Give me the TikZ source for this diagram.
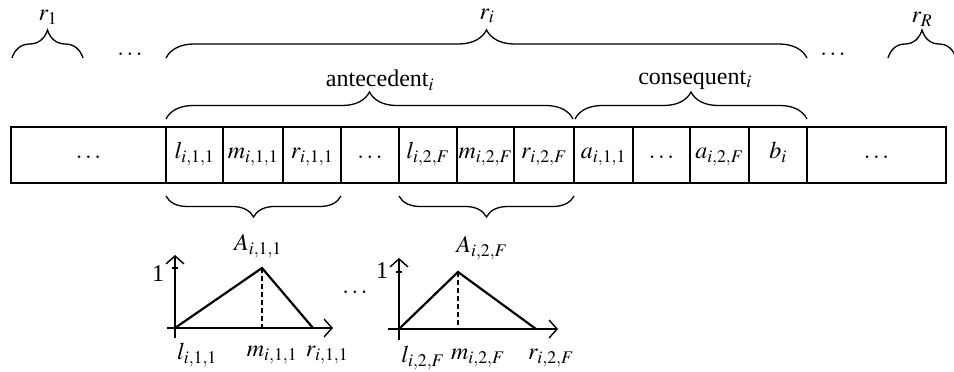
\documentclass[tikz,border=0pt]{standalone}
\usepackage{mathptmx}
\usepackage{fontspec}
\setmainfont{Liberation Serif}
\usetikzlibrary{decorations.pathreplacing,arrows.meta}
\begin{document}
\begin{tikzpicture}[x=1pt,y=1pt,
  cell/.style={draw, line width=2.6pt, rectangle, inner sep=0pt, outer sep=0pt,
    minimum height=56pt, text height=12pt, text depth=5pt,
    font=\fontsize{24}{28}\selectfont},
  lbl/.style={inner sep=0pt, font=\fontsize{24}{28}\selectfont},
  cbrace/.style={decorate, decoration={brace, amplitude=#1}, line width=1.3pt},
  mbrace/.style={decorate, decoration={brace, mirror, amplitude=#1}, line width=1.3pt},
  axisline/.style={line width=1.4pt, -{Straight Barb[length=8pt,width=18pt,line width=1.4pt]}},
  tri/.style={line width=2.2pt, line join=miter},
  guide/.style={dashed, dash pattern=on 5pt off 3pt, line width=1.2pt}
]
\useasboundingbox (0,0) rectangle (954,372);

% strip of cells
\node[cell, minimum width=155pt] (d1)  at (88.5,217) {$\ldots$};
\node[cell, minimum width=57pt]  (l11) at (194.5,217) {$l_{i,1,1}$};
\node[cell, minimum width=60pt]  (m11) at (253,217) {$m_{i,1,1}$};
\node[cell, minimum width=58pt]  (r11) at (312,217) {$r_{i,1,1}$};
\node[cell, minimum width=58pt]  (d2)  at (370,217) {$\ldots$};
\node[cell, minimum width=58pt]  (l2F) at (428,217) {$l_{i,2,F}$};
\node[cell, minimum width=57pt]  (m2F) at (485.5,217) {$m_{i,2,F}$};
\node[cell, minimum width=60pt]  (r2F) at (544,217) {$r_{i,2,F}$};
\node[cell, minimum width=59pt]  (a11) at (603.5,217) {$a_{i,1,1}$};
\node[cell, minimum width=57pt]  (d3)  at (661.5,217) {$\ldots$};
\node[cell, minimum width=59pt]  (a2F) at (719.5,217) {$a_{i,2,F}$};
\node[cell, minimum width=58pt]  (bi)  at (778,217) {$b_i$};
\node[cell, minimum width=139pt] (d4)  at (876.5,217) {$\ldots$};

% top braces
\coordinate (r1s) at (12,314);
\coordinate (r1e) at (83,314);
\coordinate (rRs) at (888,314);
\coordinate (rRe) at (956,314);
\draw[cbrace=28pt] (r1s) -- (r1e);
\draw[cbrace=28pt] (l11.west |- r1s) -- (bi.east |- r1s);
\draw[cbrace=28pt] (rRs) -- (rRe);
\node[lbl] (lr1) at (48,355) {$r_1$};
\node[lbl] (lri) at (487,356) {$r_i$};
\node[lbl] (lrR) at (922,353) {$r_R$};
\node[lbl] (dt1) at (130,318) {$\ldots$};
\node[lbl] (dt2) at (833,318) {$\ldots$};

% antecedent / consequent braces
\draw[cbrace=27pt] ([yshift=8pt]l11.north west) -- ([yshift=8pt,xshift=-1pt]r2F.north east);
\draw[cbrace=27pt] ([yshift=8pt,xshift=1pt]a11.north west) -- ([yshift=8pt]bi.north east);
\node[lbl] (ant) at (380,292) {antecedent$_i$};
\node[lbl] (con) at (695,292) {consequent$_i$};

% lower braces
\draw[mbrace=21pt] ([yshift=-13pt]l11.south west) -- ([yshift=-13pt]r11.south east);
\draw[mbrace=21pt] ([yshift=-13pt]l2F.south west) -- ([yshift=-13pt]r2F.south east);

% membership function 1
\coordinate (o1) at (175,44);
\coordinate (yb1) at (175,34);
\coordinate (yt1) at (175,117);
\coordinate (xb1) at (167,44);
\coordinate (xt1) at (333,44);
\coordinate (p1) at (262,104);
\coordinate (e1) at (313,44);
\draw[axisline] (yb1) -- (yt1);
\draw[axisline] (xb1) -- (xt1);
\draw[line width=1.3pt] ([xshift=-3pt]o1 |- p1) -- ([xshift=3pt]o1 |- p1);
\draw[tri] (o1) -- (p1) -- (e1);
\draw[guide] (p1) -- (p1 |- o1);
\node[lbl] (one1) at (158,98) {1};
\node[lbl] (A1) at (258,126) {$A_{i,1,1}$};
\node[lbl] (bl1) at (197,17) {$l_{i,1,1}$};
\node[lbl] (bm1) at (272,17) {$m_{i,1,1}$};
\node[lbl] (br1) at (327,17) {$r_{i,1,1}$};

\node[lbl] (dt3) at (355,80) {$\ldots$};

% membership function 2
\coordinate (o2) at (399,43);
\coordinate (yb2) at (399,32);
\coordinate (yt2) at (399,114);
\coordinate (xb2) at (388,43);
\coordinate (xt2) at (558,43);
\coordinate (p2) at (458,100);
\coordinate (e2) at (536,43);
\draw[axisline] (yb2) -- (yt2);
\draw[axisline] (xb2) -- (xt2);
\draw[line width=1.3pt] ([xshift=-3pt]o2 |- p2) -- ([xshift=3pt]o2 |- p2);
\draw[tri] (o2) -- (p2) -- (e2);
\draw[guide] (p2) -- (p2 |- o2);
\node[lbl] (one2) at (382,101) {1};
\node[lbl] (A2) at (482,124) {$A_{i,2,F}$};
\node[lbl] (bl2) at (423,14) {$l_{i,2,F}$};
\node[lbl] (bm2) at (478,14) {$m_{i,2,F}$};
\node[lbl] (br2) at (551,14) {$r_{i,2,F}$};
\end{tikzpicture}
\end{document}
